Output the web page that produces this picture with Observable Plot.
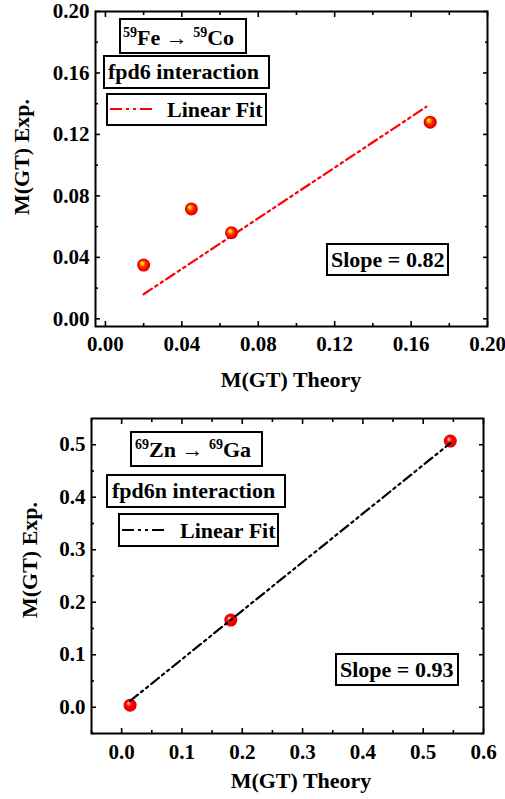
<!DOCTYPE html>
<html><head><meta charset="utf-8">
<script src="https://cdn.jsdelivr.net/npm/d3@7"></script>
<script src="https://cdn.jsdelivr.net/npm/@observablehq/plot@0.6"></script>
<style>
body{margin:0;background:#fff;}
#chart{width:505px;}
#chart svg{display:block;}
</style></head><body><div id="chart"></div>
<script>
// ---------- DATA ----------
// Panel 1: 59Fe -> 59Co, fpd6 interaction
const feTheory = [0.020, 0.045, 0.066, 0.170];
const feExp    = [0.035, 0.0715, 0.056, 0.128];
const feFitX   = [0.020, 0.168];
const feFitY   = [0.016, 0.138];
const feMajorTicks = [0.00, 0.04, 0.08, 0.12, 0.16, 0.20];
const feMinorTicks = [0.02, 0.06, 0.10, 0.14, 0.18];
const feParent = ["59", "Fe"];
const feDaughter = ["59", "Co"];
const feInteraction = "fpd6 interaction";
const feSlope = "Slope = 0.82";

// Panel 2: 69Zn -> 69Ga, fpd6n interaction
const znTheory = [0.014, 0.181, 0.545];
const znExp    = [0.004, 0.166, 0.507];
const znFitX   = [0.014, 0.545];
const znFitY   = [0.012, 0.503];
const znXMajor = [0.0, 0.1, 0.2, 0.3, 0.4, 0.5, 0.6];
const znXMinor = [-0.05, 0.05, 0.15, 0.25, 0.35, 0.45, 0.55];
const znYMajor = [0.0, 0.1, 0.2, 0.3, 0.4, 0.5];
const znYMinor = [-0.05, 0.05, 0.15, 0.25, 0.35, 0.45];
const znParent = ["69", "Zn"];
const znDaughter = ["69", "Ga"];
const znInteraction = "fpd6n interaction";
const znSlope = "Slope = 0.93";

const legendLabel = "Linear Fit";
const xTitle = "M(GT) Theory";
const yTitle = "M(GT) Exp.";

// ---------- STYLE / LAYOUT ----------
const FONT = "'Liberation Serif','Times New Roman',serif";
const fitDash = "10,4,2.5,4,2.5,4";

function buildPanel(cfg) {
  const points = cfg.x.map((x, i) => ({x, y: cfg.y[i]}));
  const fit = cfg.fitX.map((x, i) => ({x, y: cfg.fitY[i]}));

  const annotate = (index, scales, values, dims) => {
    const ox = dims.marginLeft, oy = dims.marginTop;
    const fw = dims.width - dims.marginLeft - dims.marginRight;
    const fh = dims.height - dims.marginTop - dims.marginBottom;
    const g = d3.create("svg:g")
      .attr("font-family", FONT).attr("font-weight", "bold").attr("fill", "black")
      .attr("text-anchor", "start");
    const defs = g.append("defs");
    const grad = defs.append("radialGradient").attr("id", cfg.gradId)
      .attr("cx", "50%").attr("cy", "50%").attr("r", "50%")
      .attr("fx", "35%").attr("fy", "33%");
    cfg.gradStops.forEach(([o, c]) => grad.append("stop").attr("offset", o).attr("stop-color", c));

    const box = (b) => g.append("rect").attr("x", ox + b.x).attr("y", oy + b.y)
      .attr("width", b.w).attr("height", b.h)
      .attr("fill", "white").attr("stroke", "black").attr("stroke-width", 2);

    const L = cfg.layout;
    box(L.title);
    const t = g.append("text").attr("x", ox + L.title.tx).attr("y", oy + L.title.ty).attr("font-size", 22);
    t.append("tspan").attr("font-size", 14).attr("dy", -8).text(cfg.parent[0]);
    t.append("tspan").attr("dy", 8).text(cfg.parent[1] + " \u2192 ");
    t.append("tspan").attr("font-size", 14).attr("dy", -8).text(cfg.daughter[0]);
    t.append("tspan").attr("dy", 8).text(cfg.daughter[1]);

    box(L.inter);
    g.append("text").attr("x", ox + L.inter.tx).attr("y", oy + L.inter.ty)
      .attr("font-size", 22).text(cfg.interaction);

    box(L.legend);
    g.append("line").attr("x1", ox + L.legend.lx1).attr("x2", ox + L.legend.lx2)
      .attr("y1", oy + L.legend.ly).attr("y2", oy + L.legend.ly)
      .attr("stroke", cfg.fitColor).attr("stroke-width", 2.2).attr("stroke-dasharray", "12,4,3,4,3,4");
    g.append("text").attr("x", ox + L.legend.tx).attr("y", oy + L.legend.ty)
      .attr("font-size", 22).text(legendLabel);

    box(L.slope);
    g.append("text").attr("x", ox + L.slope.tx).attr("y", oy + L.slope.ty)
      .attr("font-size", 22).text(cfg.slope);

    g.append("text").attr("x", ox + fw / 2 + L.xTitle.dx).attr("y", oy + fh + L.xTitle.dy)
      .attr("text-anchor", "middle").attr("font-size", 22).text(xTitle);
    g.append("text").attr("transform", `translate(${L.yTitle.x},${oy + fh / 2 + L.yTitle.dy}) rotate(-90)`)
      .attr("text-anchor", "middle").attr("font-size", 22).text(yTitle);
    return g.node();
  };

  const tickMarks = [];
  for (const a of ["bottom", "top"]) {
    tickMarks.push(Plot.axisX(cfg.xMajor, {anchor: a, tickSize: -5, strokeWidth: 1.6, fill: "none", label: null}));
    tickMarks.push(Plot.axisX(cfg.xMinor, {anchor: a, tickSize: -3, strokeWidth: 1.6, fill: "none", label: null}));
  }
  for (const a of ["left", "right"]) {
    tickMarks.push(Plot.axisY(cfg.yMajor, {anchor: a, tickSize: -5, strokeWidth: 1.6, fill: "none", label: null}));
    tickMarks.push(Plot.axisY(cfg.yMinor, {anchor: a, tickSize: -3, strokeWidth: 1.6, fill: "none", label: null}));
  }

  const fitLine = Plot.line(fit, {x: "x", y: "y", stroke: cfg.fitColor, strokeWidth: 2.2, strokeDasharray: fitDash});
  return Plot.plot({
    width: 505, height: cfg.height,
    marginLeft: cfg.margins[0], marginRight: cfg.margins[1],
    marginTop: cfg.margins[2], marginBottom: cfg.margins[3],
    style: {fontFamily: FONT, fontWeight: "bold", fontSize: "21px", background: "white", color: "black"},
    x: {domain: cfg.xDomain, axis: null},
    y: {domain: cfg.yDomain, axis: null},
    marks: [
      annotate,
      ...tickMarks,
      Plot.axisX(cfg.xMajor, {anchor: "bottom", tickSize: 0, tickPadding: cfg.xPad, tickFormat: cfg.fmtX, label: null}),
      Plot.axisY(cfg.yMajor, {anchor: "left", tickSize: 0, tickPadding: 6, tickFormat: cfg.fmtY, label: null}),
      Plot.frame({stroke: "black", strokeWidth: 2}),
      ...(cfg.lineOnTop ? [] : [fitLine]),
      Plot.dot(points, {x: "x", y: "y", r: 6.5, fill: `url(#${cfg.gradId})`, stroke: "none"}),
      ...(cfg.lineOnTop ? [fitLine] : [])
    ]
  });
}

const topPanel = buildPanel({
  height: 400, margins: [95, 18, 11, 74],
  x: feTheory, y: feExp, fitX: feFitX, fitY: feFitY,
  xDomain: [-0.0052, 0.20], yDomain: [-0.005, 0.20],
  xMajor: feMajorTicks, xMinor: feMinorTicks, yMajor: feMajorTicks, yMinor: feMinorTicks,
  fmtX: d3.format(".2f"), fmtY: d3.format(".2f"), xPad: 10,
  parent: feParent, daughter: feDaughter, interaction: feInteraction, slope: feSlope,
  fitColor: "#ff0000", gradId: "ballFe", lineOnTop: false,
  gradStops: [["0%", "#ffff50"], ["22%", "#ffc000"], ["50%", "#ff2a00"], ["85%", "#f00000"], ["100%", "#c80000"]],
  layout: {
    title: {x: 25, y: 8, w: 126, h: 34, tx: 28, ty: 34},
    inter: {x: 9, y: 45, w: 165, h: 32, tx: 13, ty: 68},
    legend: {x: 12, y: 83, w: 159, h: 31, lx1: 15, lx2: 61, ly: 98, tx: 72, ty: 106},
    slope: {x: 232, y: 233, w: 121, h: 31, tx: 236, ty: 256},
    xTitle: {dx: 0, dy: 61},
    yTitle: {x: 29, dy: -11.5}
  }
});

const bottomPanel = buildPanel({
  height: 399, margins: [91, 22, 18, 66],
  x: znTheory, y: znExp, fitX: znFitX, fitY: znFitY,
  xDomain: [-0.05, 0.60], yDomain: [-0.05, 0.55],
  xMajor: znXMajor, xMinor: znXMinor, yMajor: znYMajor, yMinor: znYMinor,
  fmtX: d3.format(".1f"), fmtY: d3.format(".1f"), xPad: 11,
  parent: znParent, daughter: znDaughter, interaction: znInteraction, slope: znSlope,
  fitColor: "#000000", gradId: "ballZn", lineOnTop: true,
  gradStops: [["0%", "#ffe0e0"], ["18%", "#ff7070"], ["45%", "#ff0000"], ["85%", "#f00000"], ["100%", "#c00000"]],
  layout: {
    title: {x: 40, y: 14, w: 131, h: 34, tx: 44, ty: 39},
    inter: {x: 16, y: 57, w: 178, h: 32, tx: 21, ty: 80},
    legend: {x: 28, y: 96, w: 159, h: 32, lx1: 31, lx2: 77, ly: 112, tx: 89, ty: 120},
    slope: {x: 245, y: 236, w: 122, h: 31, tx: 249, ty: 259},
    xTitle: {dx: 14, dy: 55},
    yTitle: {x: 37, dy: -15.5}
  }
});

document.getElementById("chart").append(topPanel, bottomPanel);
</script>
</body></html>
